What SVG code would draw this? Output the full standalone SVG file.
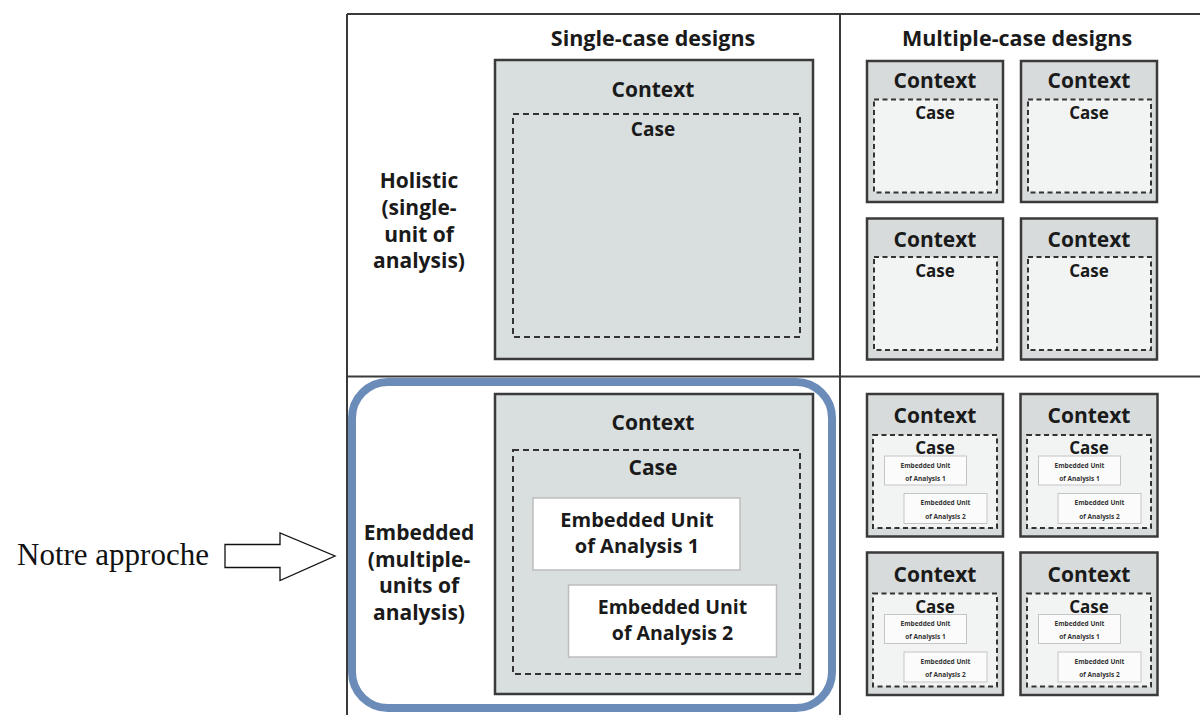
<svg xmlns="http://www.w3.org/2000/svg" width="1200" height="715" viewBox="0 0 1200 715">
<style>
.t{font-family:"Open Sans","Liberation Sans",sans-serif;font-weight:bold;fill:#1a1a1a;text-anchor:middle}
.ctx{fill:#d9dede;stroke:#3a3a3a;stroke-width:2.5}
.ctxs{fill:#d8dbdb;stroke:#3a3a3a;stroke-width:2.5}
.case{fill:none;stroke:#333;stroke-width:2;stroke-dasharray:6 4}
.cases{fill:#f2f4f3;stroke:#333;stroke-width:2;stroke-dasharray:5 3.5}
.unit{fill:#fff;stroke:#bdbdbd;stroke-width:1.5}
.units{fill:#fbfbfb;stroke:#c4c4c4;stroke-width:1}
.frame{stroke:#3a3a3a;stroke-width:2;fill:none}
.h{font-size:21.5px}
.r{font-size:21px}
.c{font-size:21px}
.tiny{font-size:6.5px;fill:#333}
</style>
<rect width="1200" height="715" fill="#fff"/>
<g id="frame">
<line class="frame" x1="347" y1="14" x2="1200" y2="14"/>
<line class="frame" x1="347" y1="14" x2="347" y2="715"/>
<line class="frame" x1="840" y1="14" x2="840" y2="715"/>
<line class="frame" x1="347" y1="376.5" x2="1200" y2="376.5"/>
</g>
<g id="headers">
<text class="t h" x="653" y="46">Single-case designs</text>
<text class="t h" x="1017" y="46">Multiple-case designs</text>
</g>
<g id="row-holistic">
<text class="t r" x="419" y="188">Holistic</text>
<text class="t r" x="419" y="215">(single-</text>
<text class="t r" x="419" y="242">unit of</text>
<text class="t r" x="419" y="268">analysis)</text>
</g>
<g id="single-holistic">
<rect class="ctx" x="495" y="60" width="318" height="299"/>
<text class="t c" x="653" y="97">Context</text>
<rect class="case" x="513" y="114" width="287" height="223"/>
<text class="t" font-size="19" x="653" y="136">Case</text>
</g>
<g id="multi-holistic-1">
<rect class="ctxs" x="867" y="61" width="136" height="141"/>
<text class="t c" x="935" y="88">Context</text>
<rect class="cases" x="874" y="99.5" width="123" height="93"/>
<text class="t" font-size="17" x="935" y="119">Case</text>
</g>
<g id="multi-holistic-2">
<rect class="ctxs" x="1021" y="61" width="136" height="141"/>
<text class="t c" x="1089" y="88">Context</text>
<rect class="cases" x="1028" y="99.5" width="123" height="93"/>
<text class="t" font-size="17" x="1089" y="119">Case</text>
</g>
<g id="multi-holistic-3">
<rect class="ctxs" x="867" y="218.5" width="136" height="141"/>
<text class="t c" x="935" y="246.5">Context</text>
<rect class="cases" x="874" y="257" width="123" height="93"/>
<text class="t" font-size="17" x="935" y="277">Case</text>
</g>
<g id="multi-holistic-4">
<rect class="ctxs" x="1021" y="218.5" width="136" height="141"/>
<text class="t c" x="1089" y="246.5">Context</text>
<rect class="cases" x="1028" y="257" width="123" height="93"/>
<text class="t" font-size="17" x="1089" y="277">Case</text>
</g>
<g id="row-embedded">
<text class="t r" x="419" y="540">Embedded</text>
<text class="t r" x="419" y="566.5">(multiple-</text>
<text class="t r" x="419" y="593">units of</text>
<text class="t r" x="419" y="620">analysis)</text>
</g>
<g id="single-embedded">
<rect class="ctx" x="495" y="394" width="318" height="300"/>
<text class="t c" x="653" y="430">Context</text>
<rect class="case" x="513" y="450" width="287" height="224"/>
<text class="t" font-size="21" x="653" y="475">Case</text>
<rect class="unit" x="533" y="498" width="207" height="72"/>
<text class="t" font-size="20" x="637" y="527">Embedded Unit</text>
<text class="t" font-size="20" x="637" y="553">of Analysis 1</text>
<rect class="unit" x="568.5" y="585" width="208" height="72"/>
<text class="t" font-size="19.5" x="672.5" y="614">Embedded Unit</text>
<text class="t" font-size="19.5" x="672.5" y="640">of Analysis 2</text>
</g>
<g id="multi-embedded-1">
<rect class="ctxs" x="867" y="394" width="136" height="142.5"/>
<text class="t c" x="935" y="423">Context</text>
<rect class="cases" x="873" y="435" width="124" height="93"/>
<text class="t" font-size="17" x="935" y="454">Case</text>
<rect class="units" x="884.5" y="456" width="82" height="29"/>
<text class="t tiny" x="925.5" y="467.5">Embedded Unit</text>
<text class="t tiny" x="925.5" y="480.5">of Analysis 1</text>
<rect class="units" x="904" y="493.5" width="83" height="30"/>
<text class="t tiny" x="945.5" y="505">Embedded Unit</text>
<text class="t tiny" x="945.5" y="518.5">of Analysis 2</text>
</g>
<g id="multi-embedded-2">
<rect class="ctxs" x="1020.5" y="394" width="137" height="142.5"/>
<text class="t c" x="1089" y="423">Context</text>
<rect class="cases" x="1027" y="435" width="124" height="93"/>
<text class="t" font-size="17" x="1089" y="454">Case</text>
<rect class="units" x="1038.5" y="456" width="82" height="29"/>
<text class="t tiny" x="1079.5" y="467.5">Embedded Unit</text>
<text class="t tiny" x="1079.5" y="480.5">of Analysis 1</text>
<rect class="units" x="1058" y="493.5" width="83" height="30"/>
<text class="t tiny" x="1099.5" y="505">Embedded Unit</text>
<text class="t tiny" x="1099.5" y="518.5">of Analysis 2</text>
</g>
<g id="multi-embedded-3">
<rect class="ctxs" x="867" y="552.5" width="136" height="142.5"/>
<text class="t c" x="935" y="581.5">Context</text>
<rect class="cases" x="873" y="593.5" width="124" height="93"/>
<text class="t" font-size="17" x="935" y="612.5">Case</text>
<rect class="units" x="884.5" y="614.5" width="82" height="29"/>
<text class="t tiny" x="925.5" y="626">Embedded Unit</text>
<text class="t tiny" x="925.5" y="639">of Analysis 1</text>
<rect class="units" x="904" y="652" width="83" height="30"/>
<text class="t tiny" x="945.5" y="663.5">Embedded Unit</text>
<text class="t tiny" x="945.5" y="677">of Analysis 2</text>
</g>
<g id="multi-embedded-4">
<rect class="ctxs" x="1020.5" y="552.5" width="137" height="142.5"/>
<text class="t c" x="1089" y="581.5">Context</text>
<rect class="cases" x="1027" y="593.5" width="124" height="93"/>
<text class="t" font-size="17" x="1089" y="612.5">Case</text>
<rect class="units" x="1038.5" y="614.5" width="82" height="29"/>
<text class="t tiny" x="1079.5" y="626">Embedded Unit</text>
<text class="t tiny" x="1079.5" y="639">of Analysis 1</text>
<rect class="units" x="1058" y="652" width="83" height="30"/>
<text class="t tiny" x="1099.5" y="663.5">Embedded Unit</text>
<text class="t tiny" x="1099.5" y="677">of Analysis 2</text>
</g>
<g id="highlight">
<rect x="352" y="382" width="480" height="326" rx="36" ry="36" fill="none" stroke="#6b8bb8" stroke-width="8"/>
</g>
<g id="connectors">
<polygon points="225,544.5 280,544.5 280,533 335,556 280,580.5 280,567.5 225,567.5" fill="#fff" stroke="#111" stroke-width="1.3"/>
</g>
<g id="notre">
<text x="17" y="565" font-family="'Liberation Serif',serif" font-size="31" fill="#111">Notre approche</text>
</g>
</svg>
